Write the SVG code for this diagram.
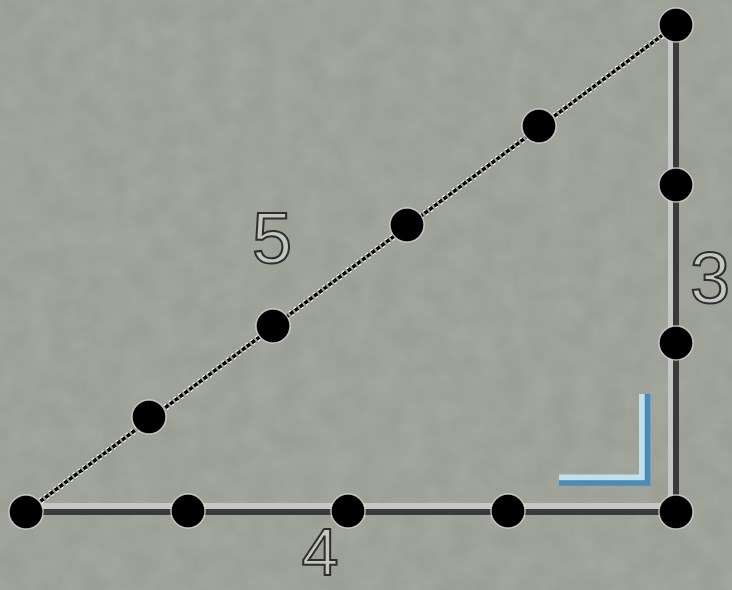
<svg xmlns="http://www.w3.org/2000/svg" width="732" height="590" viewBox="0 0 732 590">
<defs>
<filter id="tex" x="0" y="0" width="100%" height="100%">
<feTurbulence type="fractalNoise" baseFrequency="0.04" numOctaves="3" seed="4" result="n"/>
<feColorMatrix in="n" type="matrix" values="0 0 0 0 0.6  0 0 0 0 0.62  0 0 0 0 0.57  0 0 0 0.25 0"/>
</filter>
<style>
.dot{fill:#000;stroke:#e4e4e4;stroke-width:1.5;stroke-opacity:0.75}
.lbl{font-family:"Liberation Sans",Arial,sans-serif;font-size:72px;fill:#c4c6c0;stroke:#2e2e2e;stroke-width:2;text-anchor:middle}
</style>
</defs>
<rect width="732" height="590" fill="#999c93"/>
<rect width="732" height="590" filter="url(#tex)"/>
<g id="connectors">
<line x1="25" y1="506" x2="676" y2="506" stroke="#c6c6c4" stroke-width="6"/>
<line x1="25" y1="512" x2="676" y2="512" stroke="#3a3a3a" stroke-width="6"/>
<line x1="670.5" y1="25" x2="670.5" y2="512" stroke="#c6c6c4" stroke-width="5"/>
<line x1="676" y1="25" x2="676" y2="512" stroke="#3a3a3a" stroke-width="6"/>
<line x1="26" y1="512" x2="676" y2="25" stroke="#f4f4f4" stroke-width="6" stroke-dasharray="3 3"/>
<line x1="26" y1="512" x2="676" y2="25" stroke="#000" stroke-width="3.5" stroke-dasharray="4 2"/>
</g>
<g id="right-angle">
<polyline points="642,394 642,477.5 559,477.5" fill="none" stroke="#c4dfec" stroke-width="6"/>
<polyline points="647.5,394 647.5,483 559,483" fill="none" stroke="#4a8cb8" stroke-width="5.5"/>
</g>
<g id="vertex-bl"><circle class="dot" cx="26" cy="512" r="17"/></g>
<g id="vertex-br"><circle class="dot" cx="676" cy="512" r="17"/></g>
<g id="vertex-tr"><circle class="dot" cx="676" cy="25" r="17"/></g>
<g id="base-points">
<circle class="dot" cx="188" cy="511" r="17"/>
<circle class="dot" cx="348" cy="511" r="17"/>
<circle class="dot" cx="508" cy="511" r="17"/>
</g>
<g id="height-points">
<circle class="dot" cx="676" cy="185" r="17"/>
<circle class="dot" cx="676" cy="343" r="17"/>
</g>
<g id="hyp-points">
<circle class="dot" cx="149" cy="417" r="17"/>
<circle class="dot" cx="273" cy="326" r="17"/>
<circle class="dot" cx="407" cy="225" r="17"/>
<circle class="dot" cx="539" cy="126" r="17"/>
</g>
<g id="labels">
<text class="lbl" x="320" y="575" style="font-size:66px">4</text>
<text class="lbl" x="272" y="263">5</text>
<text class="lbl" x="710" y="303">3</text>
</g>
</svg>
